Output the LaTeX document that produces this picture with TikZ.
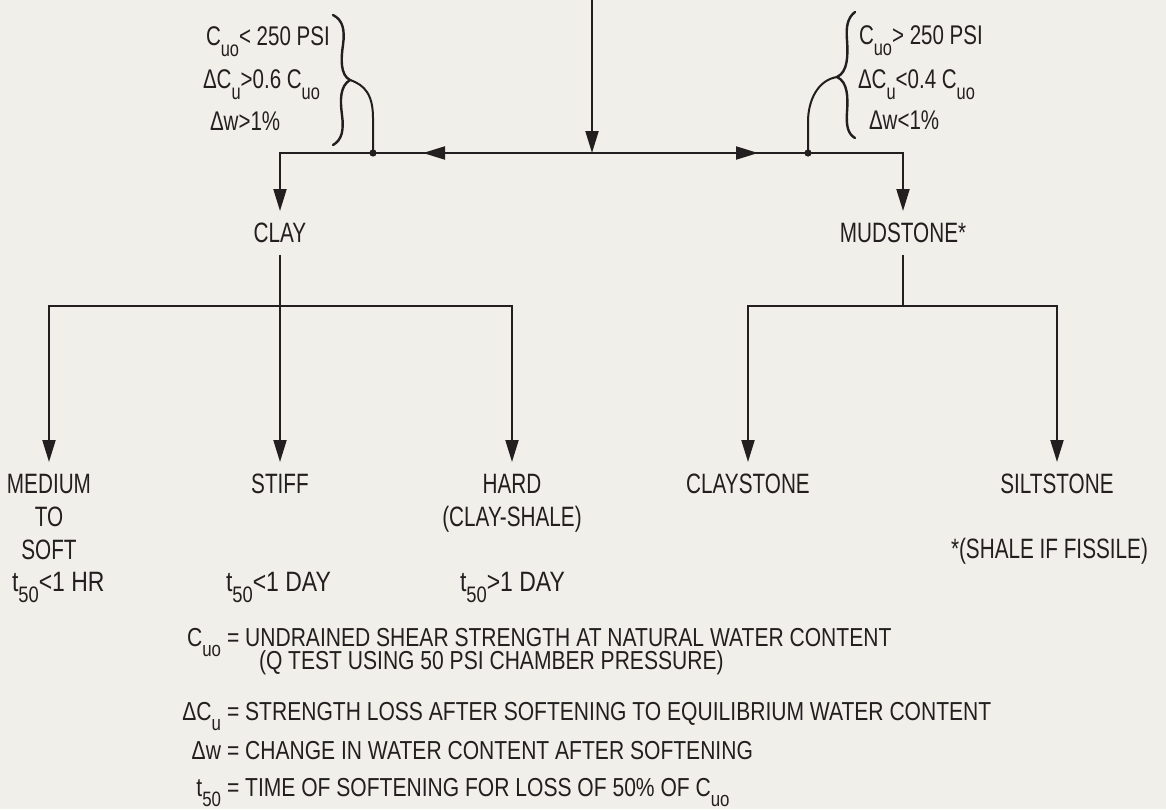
\documentclass[tikz,border=0pt]{standalone}
\usepackage{fontspec}
\setmainfont[FakeStretch=0.74]{Liberation Sans}
\newfontfamily\legfont[FakeStretch=0.81]{Liberation Sans}
\newfontfamily\condfont[FakeStretch=0.76]{Liberation Sans}
\newfontfamily\rowfont[FakeStretch=0.82]{Liberation Sans}
\usetikzlibrary{arrows.meta,decorations.markings}
\definecolor{bg}{HTML}{F0EFE9}
\definecolor{ink}{HTML}{231F20}
\newcommand\lo[1]{\raisebox{-0.42em}{\scalebox{0.8}{#1}}}
\begin{document}
\begin{tikzpicture}[x=0.5pt,y=-0.5pt,
  line width=1pt, draw=ink, text=ink,
  >={Triangle[length=11pt,width=6.5pt]},
  lab/.style={inner sep=0pt, outer sep=6pt, anchor=north, align=center,
    font=\fontsize{14}{16.5}\selectfont},
  cond/.style={inner sep=0pt, anchor=base west, font=\condfont\fontsize{13.5}{15}\selectfont},
  note/.style={inner sep=0pt, anchor=base west, font=\rowfont\fontsize{14}{16.5}\selectfont},
  leg/.style={inner sep=0pt, anchor=base west, font=\legfont\fontsize{13}{15}\selectfont},
  midarr/.style={postaction={decorate}, decoration={markings,
    mark=at position #1 with {\arrow{Triangle[length=11pt,width=6.5pt]}}}},
  brace/.style={line width=1.2pt, line cap=round},
  dot/.style={fill=ink}
]
\fill[bg] (0,0) rectangle (1166,809);
\useasboundingbox (0,0) rectangle (1166,809);

% junction points
\coordinate (top) at (592,-5);
\coordinate (J) at (592,153);
\coordinate (DL) at (373,153);
\coordinate (DR) at (808,153);
\coordinate (cb) at (280,306);
\coordinate (mb) at (903,306);

% second level
\node[lab] (clay) at (280,211) {CLAY};
\node[lab] (mud) at (903,211) {MUDSTONE*};

% third level
\node[lab] (medium) at (49,462) {MEDIUM\\TO\\SOFT};
\node[lab] (stiff) at (280,462) {STIFF};
\node[lab] (hard) at (512,462) {HARD\\(CLAY-SHALE)};
\node[lab] (claystone) at (748,462) {CLAYSTONE};
\node[lab] (siltstone) at (1057,462) {SILTSTONE};
\node[note, font=\fontsize{14}{16.5}\selectfont] (shale) at (950,558) {*(SHALE IF FISSILE)};

% t50 row
\node[note] (t1) at (11,591) {t\lo{50}<1 HR};
\node[note] (t2) at (225,591) {t\lo{50}<1 DAY};
\node[note] (t3) at (459,591) {t\lo{50}>1 DAY};

% connectors
\draw[->] (top) -- (J);
\draw[midarr=84.5pt] (J) -- (DL);
\draw[midarr=83pt] (J) -- (DR);
\draw[->] (DL) -| (clay.north);
\draw[->] (DR) -| (mud.north);
\draw[->] (clay.south) -- (stiff.north);
\draw[->] (cb) -| (medium.north);
\draw[->] (cb) -| (hard.north);
\draw (mud.south) -- (mb);
\draw[->] (mb) -| (claystone.north);
\draw[->] (mb) -| (siltstone.north);
\fill[dot] (DL) circle (1.8pt);
\fill[dot] (DR) circle (1.8pt);

% left conditions
\node[cond] (lc1) at (205,45) {C\lo{uo}< 250 PSI};
\node[cond] (lc2) at (202,88) {ΔC\lo{u}>0.6 C\lo{uo}};
\node[cond] (lc3) at (209,130) {Δw>1\%};
\coordinate (lbt) at (350,80);
\draw[brace] (333,15) .. controls (343,20) and (345,30) .. (343,45)
  .. controls (341,58) and (340,75) .. (lbt)
  .. controls (340,86) and (340,100) .. (342,115)
  .. controls (344,130) and (342,140) .. (333,145);
\draw (lbt) .. controls (365,85) and (373,95) .. (373,118) -- (DL);

% right conditions
\node[cond] (rc1) at (858,44) {C\lo{uo}> 250 PSI};
\node[cond] (rc2) at (857,88) {ΔC\lo{u}<0.4 C\lo{uo}};
\node[cond] (rc3) at (868,129) {Δw<1\%};
\coordinate (rbt) at (837,77);
\draw[brace] (855,12) .. controls (847,18) and (846,28) .. (847,40)
  .. controls (848,55) and (848,72) .. (rbt)
  .. controls (848,82) and (848,98) .. (847,112)
  .. controls (846,126) and (848,134) .. (855,138);
\draw (rbt) .. controls (818,80) and (808,100) .. (808,122) -- (DR);

% legend
\node[leg, anchor=base east] (s1) at (222,646) {C\lo{uo}};
\node[leg] (d1) at (226,646) {= UNDRAINED SHEAR STRENGTH AT NATURAL WATER CONTENT};
\node[leg] (d1b) at (258,669) {(Q TEST USING 50 PSI CHAMBER PRESSURE)};
\node[leg, anchor=base east] (s2) at (222,720) {ΔC\lo{u}};
\node[leg] (d2) at (226,720) {= STRENGTH LOSS AFTER SOFTENING TO EQUILIBRIUM WATER CONTENT};
\node[leg, anchor=base east] (s3) at (222,759) {Δw};
\node[leg] (d3) at (226,759) {= CHANGE IN WATER CONTENT AFTER SOFTENING};
\node[leg, anchor=base east] (s4) at (222,796) {t\lo{50}};
\node[leg] (d4) at (226,796) {= TIME OF SOFTENING FOR LOSS OF 50\% OF C\lo{uo}};
\end{tikzpicture}
\end{document}
